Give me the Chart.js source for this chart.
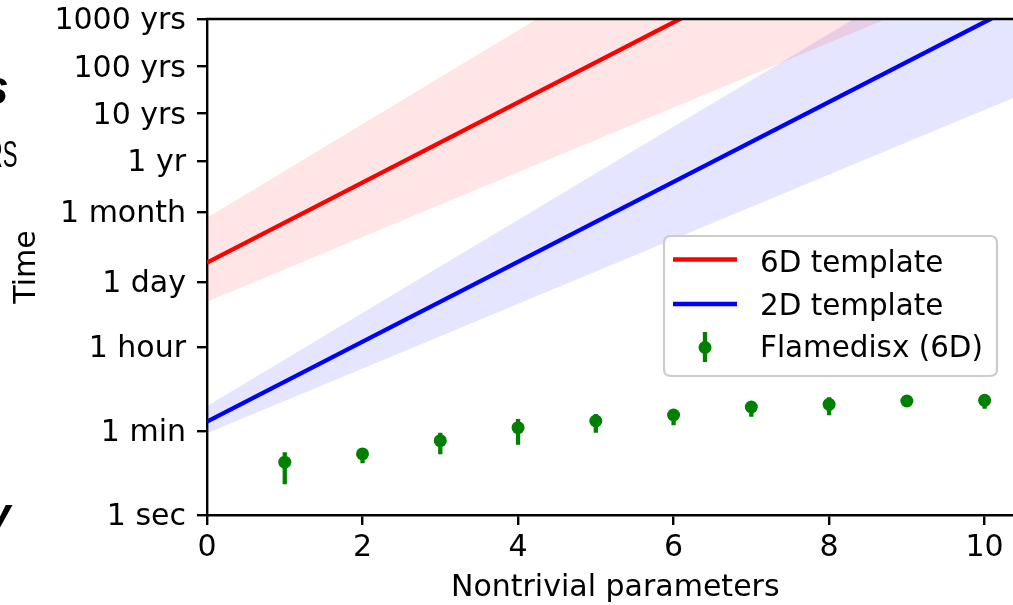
<!DOCTYPE html>
<html>
<head>
<meta charset="utf-8">
<script src="https://cdn.jsdelivr.net/npm/chart.js@4.4.1/dist/chart.umd.min.js"></script>
<style>
html,body{margin:0;padding:0;background:#fff;overflow:hidden}
canvas{display:block}
</style>
</head>
<body>
<canvas id="c" width="1030" height="605"></canvas>
<script>
// ---- data (times in seconds) ----
const xTickValues = [0, 2, 4, 6, 8, 10];
const yTickValues = [1, 60, 3600, 86400, 2592000, 31557600, 315576000, 3155760000, 31557600000];
const yTickLabels = ['1 sec', '1 min', '1 hour', '1 day', '1 month', '1 yr', '10 yrs', '100 yrs', '1000 yrs'];
const seriesLabels = ['6D template', '2D template', 'Flamedisx (6D)'];
const xLabel = 'Nontrivial parameters';
const yLabel = 'Time';

const templateX = [0, 11];
const sixD      = [2.19e5, 4.68e14];
const sixDUpper = [1.95e6, 1.6e17];
const sixDLower = [3.27e4, 1.12e12];
const twoD      = [94.6, 1.91e11];
const twoDUpper = [203, 1.39e13];
const twoDLower = [53.6, 1.82e9];

const flameX    = [1, 2, 3, 4, 5, 6, 7, 8, 9, 10];
const flameTime = [13.1, 19.6, 37.4, 70.5, 97.7, 131, 193, 220, 259, 268];
const flameLow  = [4.47, 12.4, 19.3, 30.8, 55.2, 79.2, 120, 129, 196, 178];
const flameHigh = [21.2, 24.6, 55.2, 108, 137, 173, 247, 310, 330, 342];

const xMin = 0, xMax = 10.5;
const yMin = 1, yMax = 31557600000;

const RED = '#ff0000', BLUE = '#0000ff', GREEN = '#008000';
const FONT = "'DejaVu Sans'";
const FS = 30;
const LEGEND_FS = 29.4;

const pts = (xs, ys) => xs.map((x, i) => ({x: x, y: ys[i]}));

Chart.defaults.font.family = FONT;
Chart.defaults.color = '#000';

const errorBars = {
  id: 'errorBars',
  afterDatasetsDraw(chart) {
    const {ctx, scales: {x, y}, chartArea} = chart;
    ctx.save();
    ctx.beginPath();
    ctx.rect(chartArea.left, chartArea.top, chartArea.right - chartArea.left, chartArea.bottom - chartArea.top);
    ctx.clip();
    ctx.strokeStyle = GREEN;
    ctx.lineWidth = 4.3;
    ctx.beginPath();
    flameX.forEach((xv, i) => {
      const px = x.getPixelForValue(xv);
      ctx.moveTo(px, y.getPixelForValue(flameLow[i]));
      ctx.lineTo(px, y.getPixelForValue(flameHigh[i]));
    });
    ctx.stroke();
    ctx.restore();
    // top spine
    ctx.save();
    ctx.strokeStyle = '#000';
    ctx.lineWidth = 2.4;
    ctx.beginPath();
    ctx.moveTo(chartArea.left - 1.2, chartArea.top);
    ctx.lineTo(chartArea.right + 2, chartArea.top);
    ctx.stroke();
    ctx.restore();
  }
};

const legendBox = {
  id: 'legendBox',
  afterDraw(chart) {
    const ctx = chart.ctx;
    const L = 664, T = 236, R = 997, B = 376, r = 7;
    ctx.save();
    ctx.beginPath();
    ctx.moveTo(L + r, T);
    ctx.lineTo(R - r, T); ctx.quadraticCurveTo(R, T, R, T + r);
    ctx.lineTo(R, B - r); ctx.quadraticCurveTo(R, B, R - r, B);
    ctx.lineTo(L + r, B); ctx.quadraticCurveTo(L, B, L, B - r);
    ctx.lineTo(L, T + r); ctx.quadraticCurveTo(L, T, L + r, T);
    ctx.closePath();
    ctx.fillStyle = 'rgba(255,255,255,0.8)';
    ctx.fill();
    ctx.strokeStyle = '#cccccc';
    ctx.lineWidth = 2.2;
    ctx.stroke();

    ctx.lineWidth = 4.3;
    ctx.strokeStyle = RED;
    ctx.beginPath(); ctx.moveTo(673, 259.5); ctx.lineTo(737, 259.5); ctx.stroke();
    ctx.strokeStyle = BLUE;
    ctx.beginPath(); ctx.moveTo(673, 304); ctx.lineTo(737, 304); ctx.stroke();
    ctx.strokeStyle = GREEN;
    ctx.beginPath(); ctx.moveTo(705, 332); ctx.lineTo(705, 362); ctx.stroke();
    ctx.fillStyle = GREEN;
    ctx.beginPath(); ctx.arc(705, 347.5, 6.5, 0, Math.PI * 2); ctx.fill();

    ctx.fillStyle = '#000';
    ctx.font = LEGEND_FS + 'px ' + FONT;
    ctx.textAlign = 'left';
    ctx.textBaseline = 'alphabetic';
    ctx.fillText(seriesLabels[0], 760, 272);
    ctx.fillText(seriesLabels[1], 760, 315);
    ctx.fillText(seriesLabels[2], 760, 357);
    ctx.restore();

    // fragments of neighbouring slide text at the left edge
    ctx.save();
    ctx.fillStyle = '#000';
    ctx.textBaseline = 'alphabetic';
    ctx.font = "italic bold 48px 'Liberation Sans'";
    ctx.fillText('s', -18, 104);
    ctx.font = "italic bold 46px 'Liberation Sans'";
    ctx.fillText('y', -15, 530);
    ctx.translate(0, 167);
    ctx.scale(0.6, 1);
    ctx.font = "37px 'Liberation Sans'";
    ctx.fillText('RS', -22, 0);
    ctx.restore();
  }
};

const tickFont = {size: FS, lineHeight: 1.2};
const gridOpts = {drawOnChartArea: false, drawTicks: true, tickLength: 10, color: '#000', lineWidth: 2.4};
const borderOpts = {display: true, color: '#000', width: 2.4};
const noPad = s => { s.paddingLeft = 0; s.paddingRight = 0; s.paddingTop = 0; s.paddingBottom = 0; };

new Chart(document.getElementById('c'), {
  type: 'line',
  data: {
    datasets: [
      {label: seriesLabels[0] + ' band', data: pts(templateX, sixDUpper), borderColor: 'rgba(0,0,0,0)', borderWidth: 0, pointRadius: 0, fill: 1, backgroundColor: 'rgba(255,0,0,0.1)', order: 3},
      {label: seriesLabels[0] + ' low', data: pts(templateX, sixDLower), borderColor: 'rgba(0,0,0,0)', borderWidth: 0, pointRadius: 0, fill: false, order: 3},
      {label: seriesLabels[1] + ' band', data: pts(templateX, twoDUpper), borderColor: 'rgba(0,0,0,0)', borderWidth: 0, pointRadius: 0, fill: 3, backgroundColor: 'rgba(0,0,255,0.1)', order: 3},
      {label: seriesLabels[1] + ' low', data: pts(templateX, twoDLower), borderColor: 'rgba(0,0,0,0)', borderWidth: 0, pointRadius: 0, fill: false, order: 3},
      {label: seriesLabels[0], data: pts(templateX, sixD), borderColor: RED, borderWidth: 4.3, pointRadius: 0, fill: false, order: 2},
      {label: seriesLabels[1], data: pts(templateX, twoD), borderColor: BLUE, borderWidth: 4.3, pointRadius: 0, fill: false, order: 2},
      {label: seriesLabels[2], data: pts(flameX, flameTime), showLine: false, pointRadius: 6.5, pointBackgroundColor: GREEN, pointBorderColor: GREEN, pointBorderWidth: 0, borderColor: GREEN, backgroundColor: GREEN, fill: false, order: 1}
    ]
  },
  options: {
    responsive: false,
    animation: false,
    devicePixelRatio: 1,
    layout: {padding: {top: 19, left: 0, right: 0, bottom: 0}},
    plugins: {legend: {display: false}, tooltip: {enabled: false}},
    scales: {
      x: {
        type: 'linear', min: xMin, max: xMax,
        afterBuildTicks: s => { s.ticks = xTickValues.map(v => ({value: v})); },
        afterFit: s => { s.height = 90; noPad(s); },
        ticks: {font: tickFont, color: '#000', padding: 5.5, maxRotation: 0, autoSkip: false, callback: v => String(v)},
        grid: gridOpts, border: borderOpts,
        title: {display: true, text: xLabel, color: '#000', font: {size: FS, lineHeight: 1}, padding: {top: 0, bottom: 1.4}}
      },
      y: {
        type: 'logarithmic', min: yMin, max: yMax,
        afterBuildTicks: s => { s.ticks = yTickValues.map(v => ({value: v})); },
        afterFit: s => { s.width = 207; noPad(s); },
        ticks: {font: tickFont, color: '#000', padding: 11, labelOffset: 2.5, autoSkip: false, callback: (v, i) => yTickLabels[i]},
        grid: gridOpts, border: borderOpts,
        title: {display: true, text: yLabel, color: '#000', font: {size: FS, lineHeight: 1}, padding: {top: 12.5, bottom: 0}}
      }
    }
  },
  plugins: [errorBars, legendBox]
});
</script>
</body>
</html>
